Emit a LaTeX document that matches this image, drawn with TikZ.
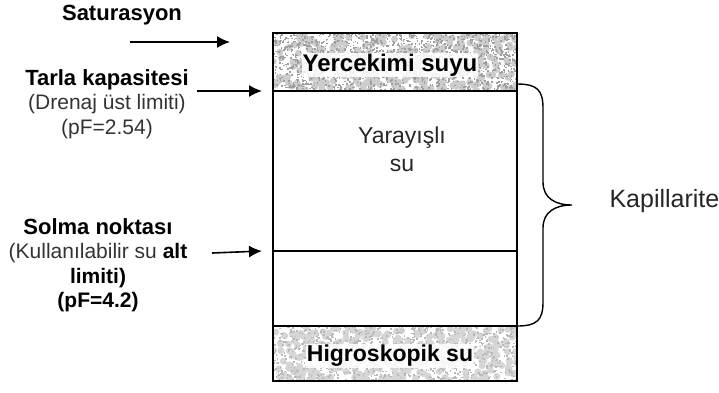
\documentclass[tikz,border=0pt]{standalone}
\usepackage{fontspec}
\setmainfont{Liberation Sans}
\usepackage{tikz}
\usetikzlibrary{arrows.meta}

\begin{document}
\begin{tikzpicture}[x=1pt, y=-1pt,
    bold/.style={font=\fontsize{23}{25}\selectfont\bfseries, align=center},
    plain/.style={font=\fontsize{23}{28}\selectfont, align=center, text=black!85},
    label/.style={font=\fontsize{21}{24.5}\selectfont, align=center},
    pointer/.style={line width=1.6pt, -{Latex[length=13pt, width=12pt]}}]
    \useasboundingbox (0,0) rectangle (719,392);

    % speckled layers
    \pgfmathsetseed{17}
    \begin{scope}
    \clip (273,33) rectangle (517,91);
    \foreach \i in {1,...,320}
        \fill[gray!40] ({273+244*rnd},{33+58*rnd}) circle (3.5);
    \foreach \i in {1,...,1500}
        \fill[gray!75] ({273+244*rnd},{33+58*rnd}) rectangle +(1.6,1.6);
    \end{scope}
    \begin{scope}
    \clip (273,326) rectangle (517,381);
    \foreach \i in {1,...,330}
        \fill[gray!32] ({273+244*rnd},{326+55*rnd}) circle (3.5);
    \foreach \i in {1,...,1000}
        \fill[gray!55] ({273+244*rnd},{326+55*rnd}) rectangle +(1.6,1.6);
    \end{scope}

    % box
    \draw [line width=1.4pt] (273,33) rectangle (517,381);
    \draw [line width=1.4pt] (273,91) coordinate (fc) -- (517,91);
    \draw [line width=1.4pt] (273,251) coordinate (wp) -- (517,251);
    \draw [line width=1.4pt] (273,326) -- (517,326);

    \node[bold, font=\fontsize{24}{26}\selectfont\bfseries, fill=white, fill opacity=0.85, text opacity=1, inner sep=1pt] (grav) at (390,65) {Yercekimi suyu};
    \node[bold, fill=white, fill opacity=0.85, text opacity=1, inner sep=1pt] (hygro) at (390,356) {Higroskopik su};
    \node[plain] (avail) at (402,149) {Yarayışlı\\su};

    % left labels
    \node[bold, font=\fontsize{22}{24}\selectfont\bfseries] (sat) at (122,15) {Saturasyon};
    \node[label] (fcap) at (107,104)
        {{\bfseries\fontsize{22}{24.5}\selectfont Tarla kapasitesi}\\
         \color{black!80}(Drenaj üst limiti)\\
         \color{black!80}(pF=2.54)};
    \node[label] (wilt) at (98,265)
        {{\bfseries\fontsize{22}{24.5}\selectfont Solma noktası}\\
         {\color{black!80}(Kullanılabilir su} \textbf{alt}\\
         \textbf{limiti)}\\
         \textbf{(pF=4.2)}};

    \coordinate (sat start) at (130,42);
    \coordinate (sat end) at (230,42);
    \draw [pointer] (sat start) -- (sat end);
    \draw [pointer] (197,91) -- ([xshift=-11pt]fc);
    \draw [pointer] (212,253) -- ([xshift=-11pt]wp);

    % capillary brace
    \draw [line width=1.4pt]
    (517,84) .. controls (537,84) and (543,90) .. (543,108) --
    (543,182) .. controls (543,198) and (555,205) .. (572,205)
    .. controls (555,205) and (543,212) .. (543,228) --
    (543,302) .. controls (543,320) and (537,326) .. (517,326);
    \node[plain, font=\fontsize{25}{27}\selectfont, anchor=west] (cap) at (606,201) {Kapillarite};
\end{tikzpicture}
\end{document}
